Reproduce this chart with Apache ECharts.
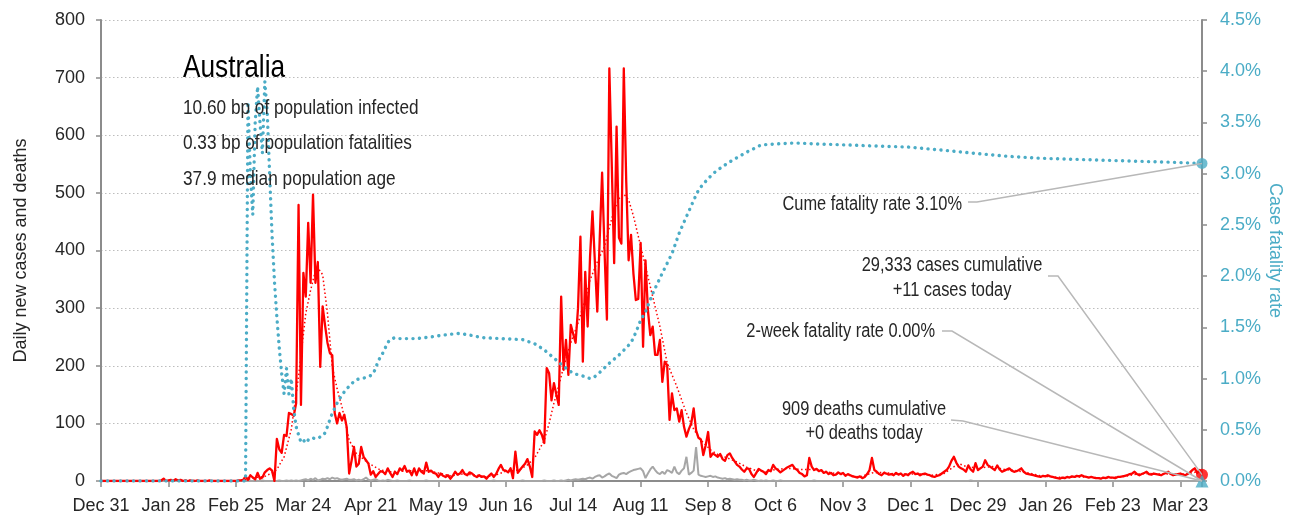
<!DOCTYPE html>
<html><head><meta charset="utf-8">
<script src="https://cdn.jsdelivr.net/npm/echarts@6/dist/echarts.min.js"></script>
<style>html,body{margin:0;padding:0;background:#fff}#chart{width:1289px;height:518px}</style>
</head><body><div id="chart"></div>
<script>
// ---- DATA (day index 0 = Dec 31, 2019) ----
const tickLabels = ['Dec 31','Jan 28','Feb 25','Mar 24','Apr 21','May 19','Jun 16','Jul 14','Aug 11','Sep 8','Oct 6','Nov 3','Dec 1','Dec 29','Jan 26','Feb 23','Mar 23'];

const cases = [
0,0,0,0,0,0,0,0,0,0, 0,0,0,0,0,0,0,0,0,0, 0,0,0,0,0,1,4,0,1,2,
0,3,1,2,0,1,0,1,0,0, 1,0,0,0,0,1,0,0,0,0, 0,0,0,0,0,0,0,1,1,2,
8,2,10,6,3,14,4,6,15,19,
22,18,0,73,55,49,80,78,118,116,
113,135,479,132,361,320,448,344,497,344,
380,198,303,270,240,222,218,118,100,118,
105,115,93,13,35,59,25,30,59,42,
36,30,11,17,7,12,17,16,12,22,
14,7,16,12,22,18,26,16,18,10,
22,10,22,16,13,32,16,18,14,13,
7,13,9,7,10,4,9,16,11,13,
19,12,10,15,13,9,7,10,7,8,
4,9,13,7,12,21,28,19,18,15,
22,5,51,14,20,25,30,38,25,7,
86,80,88,80,66,196,187,140,170,150,
132,320,193,245,184,271,255,240,300,424,
207,363,268,390,468,380,294,420,535,400,
280,716,550,378,615,422,412,716,522,383,
427,360,314,316,413,233,383,297,253,268,
219,219,245,172,207,201,106,152,123,126,
103,123,94,77,90,100,126,88,75,72,
45,62,85,42,48,45,42,47,38,35,
45,48,40,34,28,25,20,16,22,21,
12,7,14,21,18,16,12,19,17,28,
22,19,15,18,21,24,26,28,22,19,
14,12,8,10,40,25,19,21,17,19,
14,16,12,14,10,11,15,12,14,9,
12,10,8,7,6,8,5,7,12,19,
40,19,16,12,10,14,13,11,12,10,
14,11,13,9,12,10,14,16,12,13,
10,12,13,11,10,8,7,9,10,13,
16,19,25,35,42,32,25,22,20,16,
27,20,16,31,19,22,25,36,28,25,
22,19,27,20,16,18,20,22,18,16,
17,19,22,16,13,12,11,10,9,8,
7,9,8,10,8,7,6,5,4,6,
5,7,6,8,7,9,8,10,8,7,
6,7,6,5,5,4,6,5,7,6,
6,5,7,7,8,9,10,12,13,16,
12,10,12,14,16,12,11,13,12,11,
10,12,14,16,12,10,11,12,13,11,
10,12,15,19,22,14,19,11
];

const deaths = [
0,0,0,0,0,0,0,0,0,0, 0,0,0,0,0,0,0,0,0,0, 0,0,0,0,0,0,0,0,0,0,
0,0,0,0,0,0,0,0,0,0, 0,0,0,0,0,0,0,0,0,0, 0,0,0,0,0,0,0,0,0,0,
0,1,0,0,1,0,0,1,0,0,
0,0,0,0,1,0,0,1,0,1,
0,1,0,1,2,3,1,4,2,5,
1,2,4,3,5,3,6,4,5,3,
2,3,4,2,2,3,1,2,1,3,
6,2,1,2,3,1,0,1,0,2,
1,0,0,1,0,0,0,0,1,0,
0,0,0,0,0,1,0,0,0,0,
0,0,0,0,0,0,0,0,0,0,
0,0,0,0,0,0,0,0,0,0,
0,0,0,1,0,0,0,0,0,0,
0,0,0,0,0,1,0,0,0,0,
0,0,0,0,1,0,0,0,1,0,
0,1,0,1,2,1,2,3,2,3,
4,3,5,6,4,7,9,10,6,8,
11,13,9,7,5,11,13,14,12,15,
17,19,20,21,22,17,5,13,20,25,
19,14,12,16,12,19,17,14,25,15,
12,18,22,42,11,14,18,59,11,9,
8,7,8,9,7,8,6,5,4,5,
3,4,3,2,3,2,2,1,2,1,
1,2,1,0,1,0,1,0,0,1,
0,0,1,0,0,0,0,0,0,0,
0,0,0,0,0,0,1,0,0,0,
0,0,0,0,0,0,0,0,0,0,
0,0,0,0,0,0,0,0,0,0,
0,0,0,0,0,0,0,0,0,0,
0,0,0,0,0,0,0,0,0,0,
0,0,0,0,0,0,0,0,0,0,
0,0,0,0,0,0,0,0,0,0,
0,1,0,0,0,0,0,0,0,0,
0,0,0,0,0,0,0,0,0,0,
0,0,0,0,0,0,0,0,0,0,
0,0,0,0,0,0,0,0,0,0,
0,0,0,0,0,0,0,0,0,0,
0,0,0,0,0,0,0,0,0,0,
0,0,0,0,0,0,0,0,0,0,
0,0,0,0,0,0,0,0,0,0,
0,0,0,0,0,0,0,0,0,0,
0,0,0,0,0,0,0,0
];

// 7-day average of cases
const avgDays   = [0,25,28,34,40,50,58,61,64,68,71,73,76,79,82,85,87,89,90,92,94,96,98,100,103,106,111,116,120,125,130,135,140,145,150,155,160,165,168,171,174,177,180,182,184,186,188,190,192,195,198,201,203,206,209,211,213,215,217,219,221,223,225,227,229,232,235,239,243,246,249,253,256,260,264,268,272,276,280,285,290,295,300,305,310,315,320,325,330,335,340,345,350,353,356,360,365,370,375,380,385,390,395,400,405,410,415,420,425,430,435,440,445,450,454,457];
const avgValues = [0,0,1,1.5,0.5,0.2,0.5,3,6,8,14,20,42,90,181,291,331,365,370,358,291,198,160,129,71,48,31,19,16,17,18,18,14,9,12,11,7,12,17,18,20,28,40,55,71,100,135,165,198,240,274,315,349,380,407,440,470,490,498,488,460,425,390,355,320,268,205,164,118,90,71,54,46,40,33,24,18,16,20,22,20,20,17,13,10,7,14,15,12,12,12,10,13,22,30,24,23,25,20,18,14,9,7,6,7,7,5,6,8,12,13,12,12,12,15,15];

// cumulative case fatality rate, % (right axis)
const cfrDays   = [0,59,60,61,62,63,64,65,66,67,68,69,70,71,72,73,74,75,76,77,78,79,80,81,82,83,84,85,86,87,88,89,90,91,92,93,94,95,96,97,98,99,100,101,102,104,106,108,110,112,113,114,115,116,117,118,119,120,122,124,131,138,144,148,152,158,166,175,180,184,188,192,196,200,203,205,207,211,215,218,220,222,224,226,229,233,237,240,243,246,248,250,254,258,262,268,274,280,288,297,310,321,335,349,362,376,390,404,418,432,446,457];
const cfrValues = [0,0,0,3.7,3.0,2.6,3.5,3.85,3.5,3.2,3.9,3.6,3.0,2.4,1.95,1.6,1.3,1.05,0.85,1.1,0.85,1.0,0.7,0.53,0.45,0.38,0.4,0.37,0.4,0.42,0.42,0.41,0.42,0.43,0.44,0.47,0.53,0.6,0.66,0.71,0.76,0.8,0.84,0.87,0.9,0.95,0.99,1.0,1.01,1.03,1.05,1.1,1.17,1.21,1.25,1.3,1.35,1.38,1.4,1.39,1.39,1.41,1.43,1.44,1.43,1.40,1.39,1.38,1.34,1.28,1.2,1.12,1.05,1.025,1.0,1.02,1.06,1.15,1.23,1.3,1.35,1.45,1.57,1.65,1.83,2.03,2.22,2.42,2.58,2.74,2.84,2.9,3.0,3.07,3.13,3.21,3.28,3.29,3.30,3.29,3.28,3.27,3.26,3.23,3.2,3.17,3.15,3.14,3.13,3.12,3.11,3.10];

const twoWeekCfr = 0.00;
const cumCases = 29333;
const cumDeaths = 909;
const country = 'Australia';
const infoLines = ['10.60 bp of population infected','0.33 bp of population fatalities','37.9 median population age'];

// ---- CHART ----
const FONT = "'Liberation Sans', Arial, sans-serif";
const NARROW = 0.82; // horizontal squeeze for annotation text (narrow-style face)
const BLUE = '#4BACC6', RED = '#FF0000', GRAY = '#A6A6A6', AXIS = '#8C8C8C', TXT = '#262626';
const lastDay = cases.length - 1;
const lastCfr = cfrValues[cfrValues.length - 1];

const chart = echarts.init(document.getElementById('chart'), null, {renderer: 'canvas'});
chart.setOption({
  animation: false,
  textStyle: {fontFamily: FONT},
  grid: {left: 101, right: 87, top: 20, bottom: 37, containLabel: false, outerBoundsMode: 'none'},
  xAxis: {
    type: 'value', min: 0, max: lastDay, interval: 28,
    axisLine: {show: true, onZero: false, lineStyle: {color: AXIS, width: 2}},
    axisTick: {show: true, length: 6, lineStyle: {color: AXIS, width: 1.5}},
    axisLabel: {margin: 16, fontSize: 18, color: TXT, fontFamily: FONT,
      formatter: v => (v % 28 === 0 && tickLabels[v / 28]) ? tickLabels[v / 28] : ''},
    splitLine: {show: false}
  },
  yAxis: [{
    type: 'value', min: 0, max: 800, interval: 100,
    name: 'Daily new cases and deaths', nameLocation: 'middle', nameGap: 71, nameRotate: 90,
    nameMoveOverlap: false,
    nameTextStyle: {fontSize: 18, color: TXT, fontFamily: FONT},
    axisLine: {show: true, lineStyle: {color: AXIS, width: 2}},
    axisTick: {show: true, length: 5, lineStyle: {color: AXIS, width: 1.5}},
    axisLabel: {margin: 16, fontSize: 18, color: TXT, fontFamily: FONT},
    splitLine: {show: true, lineStyle: {color: '#BDBDBD', type: [1.5, 2.5], width: 1}}
  }, {
    type: 'value', min: 0, max: 4.5, interval: 0.5, position: 'right',
    name: 'Case fatality rate', nameLocation: 'middle', nameGap: 64, nameRotate: -90,
    nameMoveOverlap: false,
    nameTextStyle: {fontSize: 18, color: BLUE, fontFamily: FONT},
    axisLine: {show: true, lineStyle: {color: AXIS, width: 2}},
    axisTick: {show: true, length: 5, lineStyle: {color: AXIS, width: 1.5}},
    axisLabel: {margin: 18, fontSize: 18, color: BLUE, fontFamily: FONT, formatter: v => v.toFixed(1) + '%'},
    splitLine: {show: false}
  }],
  series: [
    {type: 'line', name: 'deaths', data: deaths.map((v, i) => [i, v]), symbol: 'none',
     lineStyle: {color: GRAY, width: 2}, z: 2, silent: true},
    {type: 'line', name: 'cases', data: cases.map((v, i) => [i, v]), symbol: 'none',
     lineStyle: {color: RED, width: 2.3, join: 'round'}, z: 3, silent: true},
    {type: 'line', name: 'avg', data: avgDays.map((d, i) => [d, avgValues[i]]), symbol: 'none',
     lineStyle: {color: RED, width: 1.5, type: [1.5, 2.5]}, z: 4, silent: true},
    {type: 'line', name: 'cfr', yAxisIndex: 1, data: cfrDays.map((d, i) => [d, cfrValues[i]]), symbol: 'none',
     lineStyle: {color: BLUE, width: 3.4, type: [0.1, 6.4], cap: 'round'}, z: 5, silent: true},
    {type: 'scatter', data: [[lastDay, cases[lastDay]]], symbol: 'circle', symbolSize: 12,
     itemStyle: {color: RED}, clip: false, z: 6, silent: true},
    {type: 'scatter', yAxisIndex: 1, data: [[lastDay, lastCfr]], symbol: 'circle', symbolSize: 11,
     itemStyle: {color: BLUE}, clip: false, z: 7, silent: true},
    {type: 'scatter', yAxisIndex: 1, data: [[lastDay, twoWeekCfr]], symbol: 'triangle', symbolSize: 13,
     itemStyle: {color: BLUE}, clip: false, z: 7, silent: true}
  ]
});

// ---- annotations ----
const pCfr = chart.convertToPixel({xAxisIndex: 0, yAxisIndex: 1}, [lastDay, lastCfr]);
const pCases = chart.convertToPixel({xAxisIndex: 0, yAxisIndex: 0}, [lastDay, cases[lastDay]]);
const p2w = chart.convertToPixel({xAxisIndex: 0, yAxisIndex: 1}, [lastDay, twoWeekCfr]);
const pDeaths = chart.convertToPixel({xAxisIndex: 0, yAxisIndex: 0}, [lastDay, deaths[lastDay]]);

const g = [];
function txt(x, y, text, size, align, color) {
  g.push({type: 'text', x: x, y: y, scaleX: NARROW, scaleY: 1, z: 20, silent: true,
    style: {text: text, font: size + 'px ' + FONT, fill: color || TXT,
            align: align, verticalAlign: 'middle', textAlign: align, textVerticalAlign: 'middle'}});
}
function leader(pts) {
  g.push({type: 'polyline', z: 15, silent: true, shape: {points: pts},
    style: {stroke: '#B8B8B8', lineWidth: 1.5, fill: null}});
}
txt(183, 68, country, 32, 'left', '#000');
txt(183, 108, infoLines[0], 21, 'left');
txt(183, 143, infoLines[1], 21, 'left');
txt(183, 179, infoLines[2], 21, 'left');

txt(962, 204, 'Cume fatality rate ' + lastCfr.toFixed(2) + '%', 20, 'right');
leader([[968, 202], [977, 202], pCfr]);

txt(952, 265, cumCases.toLocaleString('en-US') + ' cases cumulative', 20, 'center');
txt(952, 290, '+' + cases[lastDay] + ' cases today', 20, 'center');
leader([[1048, 276], [1058, 276], pCases]);

txt(935, 331, '2-week fatality rate ' + twoWeekCfr.toFixed(2) + '%', 20, 'right');
leader([[942, 331], [952, 331], p2w]);

txt(864, 409, cumDeaths + ' deaths cumulative', 20, 'center');
txt(864, 433, '+' + deaths[lastDay] + ' deaths today', 20, 'center');
leader([[951, 420], [963, 421], pDeaths]);

chart.setOption({graphic: {elements: g}});
</script>
</body></html>
